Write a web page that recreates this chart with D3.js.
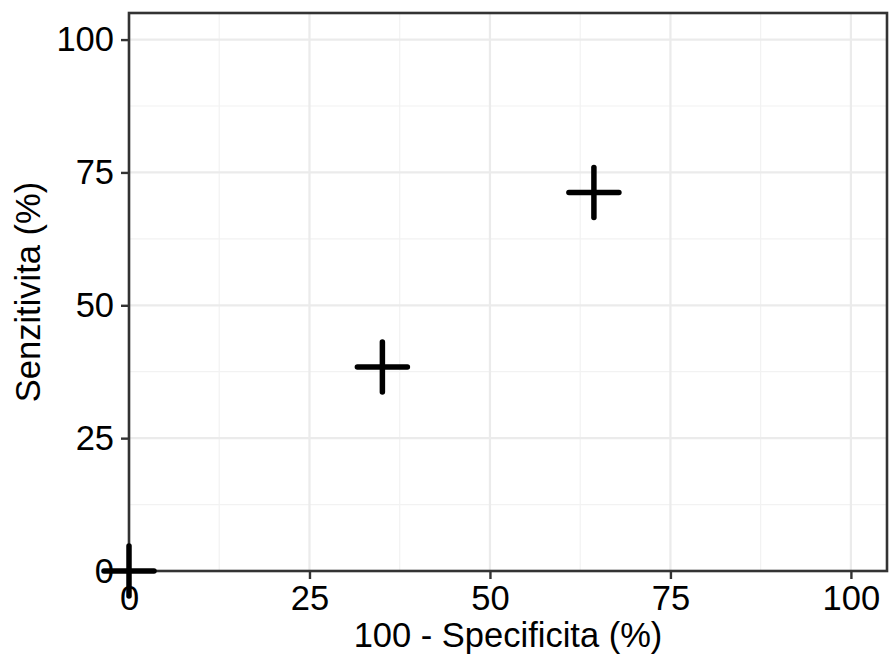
<!DOCTYPE html>
<html><head><meta charset="utf-8">
<script src="https://cdn.jsdelivr.net/npm/d3@7"></script>
<style>body{margin:0;background:#fff}svg{display:block}</style>
</head><body>
<script>
const fpr = [0, 35.1, 64.4];          // 100 - Specificita (%)
const tpr = [0, 38.4, 71.2];          // Senzitivita (%)
const majorTicks = [0, 25, 50, 75, 100];
const minorTicks = [12.5, 37.5, 62.5, 87.5];
const xTitle = "100 - Specificita (%)";
const yTitle = "Senzitivita (%)";

const W = 889, H = 660;
const m = {left: 129, right: 2, top: 13, bottom: 89};
const svg = d3.select("body").append("svg").attr("width", W).attr("height", H);
const x = d3.scaleLinear().domain([0, 105]).range([m.left, W - m.right]);
const y = d3.scaleLinear().domain([0, 105]).range([H - m.bottom, m.top]);
const font = "'Liberation Sans', Arial, sans-serif";
const fs = "34.5px";

const g = svg.append("g");
// minor grid
g.selectAll(".mx").data(minorTicks).join("line")
  .attr("x1", d => x(d)).attr("x2", d => x(d)).attr("y1", y(0)).attr("y2", y(105))
  .attr("stroke", "#F2F2F2").attr("stroke-width", 1.2);
g.selectAll(".my").data(minorTicks).join("line")
  .attr("y1", d => y(d)).attr("y2", d => y(d)).attr("x1", x(0)).attr("x2", x(105))
  .attr("stroke", "#F2F2F2").attr("stroke-width", 1.2);
// major grid
g.selectAll(".Mx").data(majorTicks).join("line")
  .attr("x1", d => x(d)).attr("x2", d => x(d)).attr("y1", y(0)).attr("y2", y(105))
  .attr("stroke", "#EBEBEB").attr("stroke-width", 2.2);
g.selectAll(".My").data(majorTicks).join("line")
  .attr("y1", d => y(d)).attr("y2", d => y(d)).attr("x1", x(0)).attr("x2", x(105))
  .attr("stroke", "#EBEBEB").attr("stroke-width", 2.2);

// axes
const xAxis = d3.axisBottom(x).tickValues(majorTicks).tickSize(8).tickPadding(7).tickFormat(d3.format("d"));
const yAxis = d3.axisLeft(y).tickValues(majorTicks).tickSize(8).tickPadding(7).tickFormat(d3.format("d"));
const gx = svg.append("g").attr("transform", `translate(0,${y(0)})`).call(xAxis);
const gy = svg.append("g").attr("transform", `translate(${x(0)},0)`).call(yAxis);
[gx, gy].forEach(a => {
  a.select(".domain").remove();
  a.selectAll(".tick line").attr("stroke", "#333333").attr("stroke-width", 2.4);
  a.selectAll(".tick text").attr("fill", "#000").style("font-family", font).style("font-size", fs);
});

// panel border
svg.append("rect").attr("x", x(0)).attr("y", y(105))
  .attr("width", x(105) - x(0)).attr("height", y(0) - y(105))
  .attr("fill", "none").attr("stroke", "#333333").attr("stroke-width", 2.6);

// points (plus shape)
const s = 25;
const pts = svg.append("g").selectAll("g").data(fpr.map((v, i) => [v, tpr[i]])).join("g")
  .attr("transform", d => `translate(${x(d[0])},${y(d[1])})`);
pts.append("line").attr("x1", -s).attr("x2", s).attr("y1", 0).attr("y2", 0);
pts.append("line").attr("x1", 0).attr("x2", 0).attr("y1", -s).attr("y2", s);
pts.selectAll("line").attr("stroke", "#000").attr("stroke-width", 5.5).attr("stroke-linecap", "round");

// titles
svg.append("text").attr("x", (x(0) + x(105)) / 2).attr("y", 647)
  .attr("text-anchor", "middle").style("font-family", font).style("font-size", fs).attr("fill", "#000")
  .text(xTitle);
svg.append("text").attr("transform", `translate(40,${(y(0) + y(105)) / 2}) rotate(-90)`)
  .attr("text-anchor", "middle").style("font-family", font).style("font-size", fs).attr("fill", "#000")
  .text(yTitle);
</script>
</body></html>
